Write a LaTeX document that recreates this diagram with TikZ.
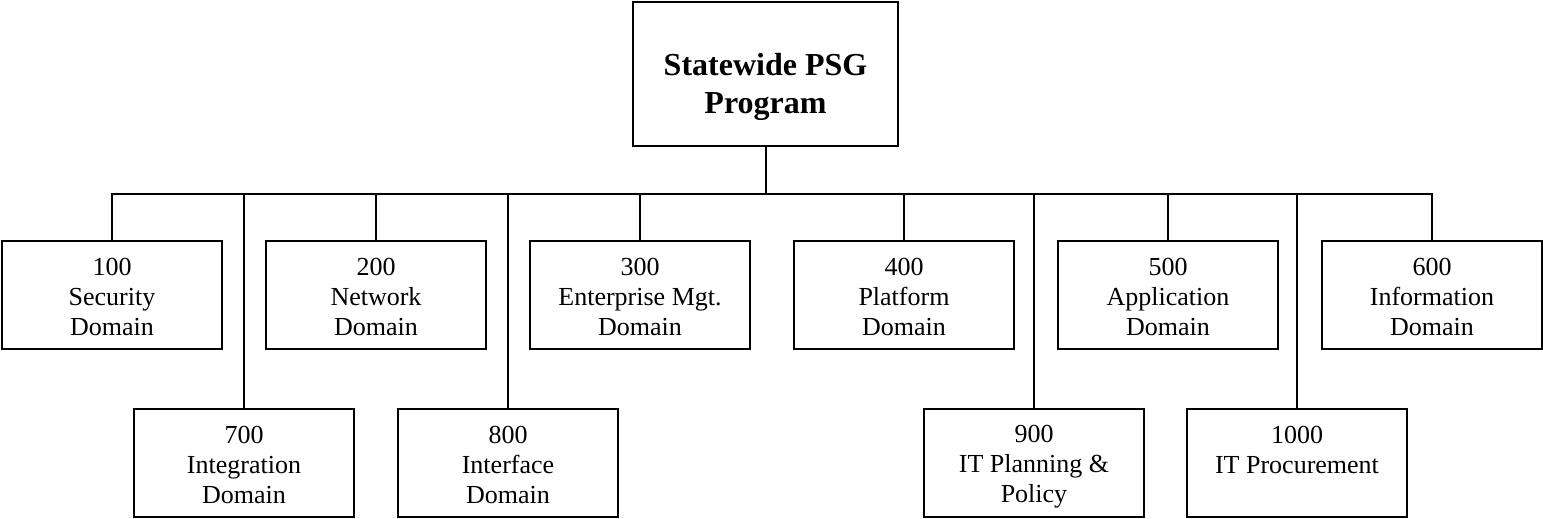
\documentclass[tikz,border=0pt]{standalone}
\usepackage{fontspec}
\setmainfont{Liberation Serif}
\newcommand{\domtext}[3]{\rule{0pt}{12pt}#1\\#2\\#3\rule[-1.5pt]{0pt}{1.5pt}}
\begin{document}
\begin{tikzpicture}[x=0.5pt, y=-0.5pt, line width=1pt,
  unit/.style={rectangle, draw, minimum width=110pt, minimum height=54pt, inner sep=0pt, align=center, font=\fontsize{13}{15}\selectfont}]
\useasboundingbox (0,0) rectangle (1543,519);
\node [rectangle, draw, minimum width=132.5pt, minimum height=72pt, inner sep=0pt, align=center, font=\fontsize{16}{19}\selectfont\bfseries] (psg) at (765.5,74) {\rule{0pt}{24pt}Statewide PSG\\Program\rule[-2pt]{0pt}{2pt}};

% first row
\node [unit] (d100) at (112,294.5) {\domtext{100}{Security}{Domain}};
\node [unit] (d200) at (376,294.5) {\domtext{200}{Network}{Domain}};
\node [unit] (d300) at (640,294.5) {\domtext{300}{Enterprise Mgt.}{Domain}};
\node [unit] (d400) at (904,294.5) {\domtext{400}{Platform}{Domain}};
\node [unit] (d500) at (1168,294.5) {\domtext{500}{Application}{Domain}};
\node [unit] (d600) at (1432,294.5) {\domtext{600}{Information}{Domain}};

% second row
\node [unit] (d700) at (244,463) {\domtext{700}{Integration}{Domain}};
\node [unit] (d800) at (508,463) {\domtext{800}{Interface}{Domain}};
\node [unit] (d900) at (1034,463) {\domtext{900}{IT Planning \&}{Policy}};
\node [unit] (d1000) at (1297,463) {\domtext{1000}{IT Procurement}{}};

\draw (psg.south) -- ++(0,47) coordinate (bus);
\foreach \d in {d100,d700,d200,d800,d300,d400,d900,d500,d1000,d600}
  \draw (bus) -| (\d.north);
\end{tikzpicture}
\end{document}
